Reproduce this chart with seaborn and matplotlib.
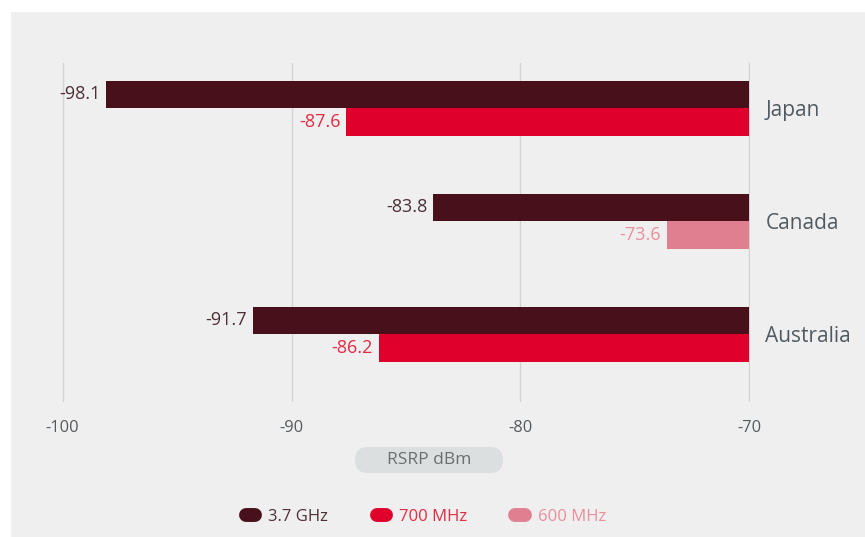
import pandas as pd
import matplotlib.pyplot as plt
import seaborn as sns
from matplotlib.lines import Line2D
from matplotlib.patches import Rectangle, FancyBboxPatch
from matplotlib.ticker import FuncFormatter

# data
countries = ["Japan", "Canada", "Australia"]
upper_band = ["3.7 GHz", "3.7 GHz", "3.7 GHz"]
upper_value = [-98.1, -83.8, -91.7]
lower_band = ["700 MHz", "600 MHz", "700 MHz"]
lower_value = [-87.6, -73.6, -86.2]
bands = ["3.7 GHz", "700 MHz", "600 MHz"]
base = -70  # bars are drawn from -70 dBm outwards
x_ticks = [-100, -90, -80, -70]

bar_colors = {"3.7 GHz": "#48101b", "700 MHz": "#df002b", "600 MHz": "#e07f8f"}
text_colors = {"3.7 GHz": "#4b3036", "700 MHz": "#e42a44", "600 MHz": "#e98f9c"}

df = pd.DataFrame({
    "country": countries * 2,
    "slot": ["upper"] * 3 + ["lower"] * 3,
    "band": upper_band + lower_band,
    "value": upper_value + lower_value,
})
df["offset"] = df["value"] - base

sns.set_theme(style="white")
plt.rcParams["font.family"] = ["Open Sans", "DejaVu Sans"]

W, H = 865, 537
fig = plt.figure(figsize=(W / 100, H / 100), dpi=100, facecolor="white")
fig.patches.append(Rectangle((11 / W, 0), 1, 1 - 12 / H, transform=fig.transFigure,
                             facecolor="#efefef", edgecolor="none", zorder=-5))

ax = fig.add_axes([62 / W, 1 - 402 / H, (750 - 62) / W, (402 - 63) / H])
ax.set_facecolor("none")

sns.barplot(data=df, y="country", x="offset", hue="slot", hue_order=["upper", "lower"],
            order=countries, dodge=True, width=0.49, gap=0, legend=False, ax=ax,
            saturation=1, linewidth=0)

# recolour each bar by its frequency band and label it
for cont, slot in zip(ax.containers, ["upper", "lower"]):
    sub = df[df["slot"] == slot].set_index("country").loc[countries]
    for bar, band in zip(cont, sub["band"]):
        bar.set_facecolor(bar_colors[band])
    texts = ax.bar_label(cont, labels=[f"{v:.1f}" for v in sub["value"]], padding=4,
                         fontsize=13)
    for t, band in zip(texts, sub["band"]):
        t.set_color(text_colors[band])

ax.set_xlim(x_ticks[0] - base - 0.03, x_ticks[-1] - base + 0.03)
ax.set_xticks([t - base for t in x_ticks])
ax.xaxis.set_major_formatter(FuncFormatter(lambda v, p: f"{v + base:.0f}"))
ax.set_ylim(2.60, -0.40)
ax.grid(axis="x", color="#d2d2d2", linewidth=1)
ax.set_axisbelow(True)
sns.despine(ax=ax, left=True, bottom=True)
ax.yaxis.tick_right()
ax.tick_params(axis="y", length=0, pad=11, labelsize=15, labelcolor="#505a62")
ax.tick_params(axis="x", length=0, pad=13, labelsize=11.8, labelcolor="#555a5e")
ax.set_xlabel("")
ax.set_ylabel("")

# axis title pill
fig.patches.append(FancyBboxPatch((3.55, 0.64), 1.48, 0.26,
                                  boxstyle="round,pad=0,rounding_size=0.13",
                                  transform=fig.dpi_scale_trans,
                                  facecolor="#dcdfdf", edgecolor="none"))
fig.text(4.29, 0.77, "RSRP dBm", transform=fig.dpi_scale_trans, ha="center", va="center",
         fontsize=12.5, color="#6b6e70")

handles = [Line2D([0], [0], color=bar_colors[b], lw=10, solid_capstyle="round") for b in bands]
fig.legend(handles, bands, loc="center", bbox_to_anchor=(426 / W, 1 - 517 / H), ncol=3,
           frameon=False, fontsize=12, handlelength=0.55, handletextpad=0.8,
           columnspacing=2.9, labelcolor=[text_colors[b] for b in bands])

fig.savefig("out.png", dpi=100)
